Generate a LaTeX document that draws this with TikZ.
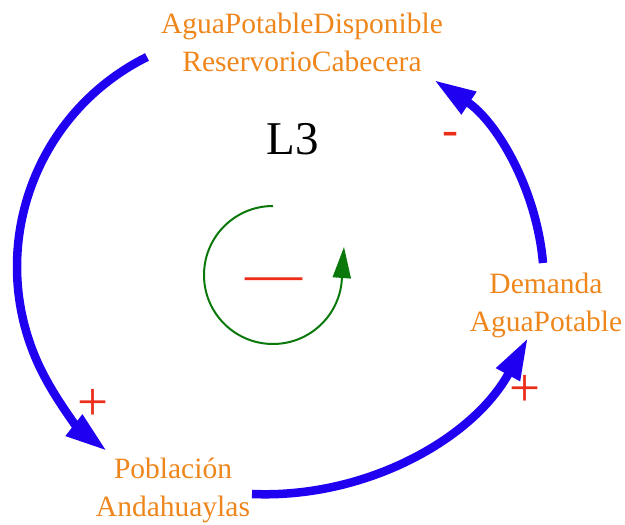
\documentclass[tikz,border=0pt]{standalone}
\usepackage{fontspec}
\setmainfont{Liberation Serif}
\usetikzlibrary{arrows.meta}
\definecolor{vorange}{RGB}{238,134,28}
\definecolor{vblue}{RGB}{32,0,240}
\definecolor{vred}{RGB}{235,45,25}
\definecolor{vgreen}{RGB}{10,120,10}
\begin{document}
\begin{tikzpicture}[x=1pt,y=1pt,
  var/.style={text=vorange, align=center, inner sep=0pt, font=\fontsize{29.5}{38.5}\selectfont},
  link/.style={draw=vblue, line width=8.5pt, -{Triangle[length=42pt,width=25pt]}},
  pol/.style={text=vred, inner sep=0pt},
  loopline/.style={draw=vgreen, line width=2pt, -{Triangle[length=31pt,width=18pt]}},
]
\useasboundingbox (0,0) rectangle (625,525);
% variables (base anchor = baseline of the last line)
\node[var, anchor=base] (agua) at (302,453) {AguaPotableDisponible\\ReservorioCabecera};
\node[var, anchor=base] (dem) at (546,193) {Demanda\\AguaPotable};
\node[var, anchor=base] (pob) at (173,8) {Población\\Andahuaylas};
\node[anchor=base, inner sep=0pt, font=\fontsize{47}{47}\selectfont] (l3) at (292.5,370) {L3};
% links
\coordinate (s1) at (147,468);
\draw[link] (s1) arc[start angle=116.4, end angle=232.0, radius=234];
\coordinate (s2) at (252,31);
\draw[link] (s2) arc[start angle=267.5, end angle=331.5, radius=299.2];
\coordinate (s3) at (543,262);
\draw[link] (s3) arc[start angle=5.0, end angle=56.55, radius=244.9];
% polarities
\node[pol, font=\fontsize{55}{55}\selectfont] (p1) at (93,120) {+};
\node[pol, font=\fontsize{55}{55}\selectfont] (p2) at (525,134) {+};
\node[pol, font=\fontsize{48}{48}\selectfont] (p3) at (450,386.5) {-};
% loop symbol
\coordinate (g0) at (273,319);
\coordinate (gt) at (344,278);
\draw[loopline] (g0) arc[start angle=90, end angle=360, radius=69] -- (gt);
\node[pol, font=\fontsize{57}{57}\selectfont] (lm) at (273.5,240) {—};
\end{tikzpicture}
\end{document}
